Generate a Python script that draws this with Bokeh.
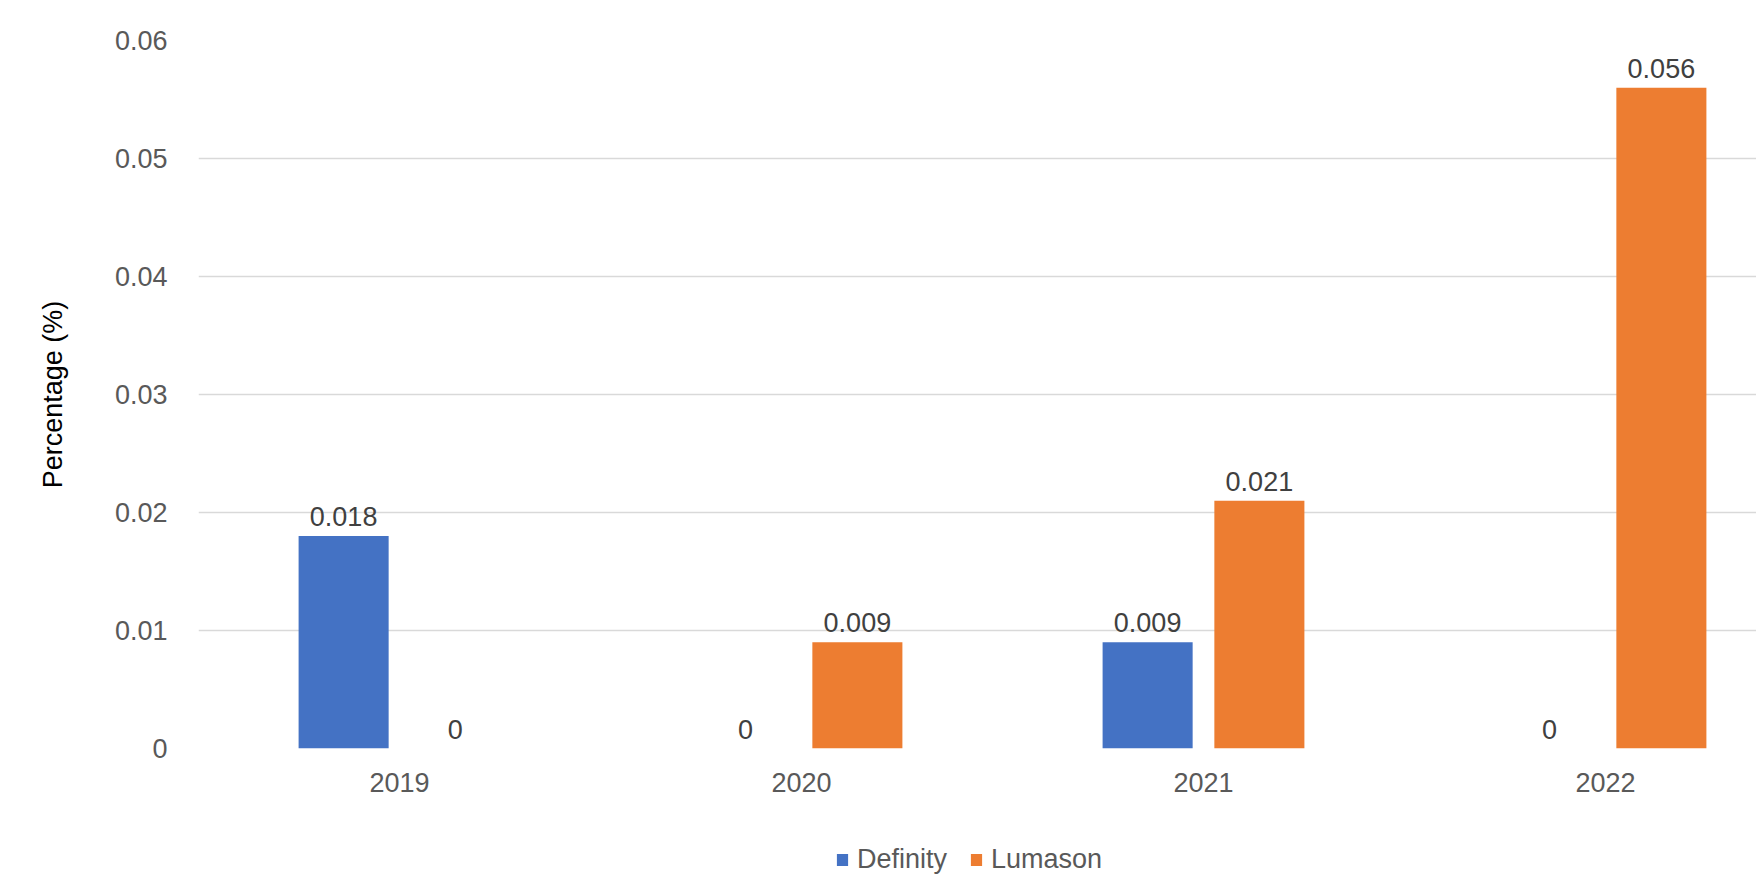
from bokeh.plotting import figure
from bokeh.layouts import column
from bokeh.models import ColumnDataSource, Range1d, LabelSet, Legend, LegendItem, FixedTicker
from bokeh.transform import dodge
from bokeh.core.properties import value
from bokeh.embed import file_html
from bokeh.resources import INLINE

years = ["2019", "2020", "2021", "2022"]
definity = [0.018, 0.0, 0.009, 0.0]
lumason = [0.0, 0.009, 0.021, 0.056]
y_ticks = [0, 0.01, 0.02, 0.03, 0.04, 0.05, 0.06]
y_tick_labels = ["0", "0.01", "0.02", "0.03", "0.04", "0.05", "0.06"]
series_names = ["Definity", "Lumason"]

BLUE = "#4472C4"
ORANGE = "#ED7D31"
FONT = "Liberation Sans"

xpos = [i + 0.5 for i in range(len(years))]
src = ColumnDataSource(dict(
    x=xpos,
    definity=definity,
    lumason=lumason,
    dlab=[f"{v:g}" for v in definity],
    llab=[f"{v:g}" for v in lumason],
))

W = 1756
H_MAIN, H_LEG = 830, 45
LEFT, TOP, BOTTOM = 198, 40, 82
frame_w = W - LEFT
cat_px = 402.0

p = figure(width=W, height=H_MAIN, output_backend="svg", toolbar_location=None,
           x_range=Range1d(0, frame_w / cat_px), y_range=Range1d(0, 0.06),
           min_border_left=LEFT, min_border_top=TOP, min_border_bottom=BOTTOM,
           min_border_right=0)
p.outline_line_color = None
p.background_fill_color = "white"

off = 0.139
bw = 0.224
p.vbar(x=dodge("x", -off, range=p.x_range), top="definity", width=bw, source=src,
       fill_color=BLUE, line_color=None)
p.vbar(x=dodge("x", off, range=p.x_range), top="lumason", width=bw, source=src,
       fill_color=ORANGE, line_color=None)

for col, lab, o in (("definity", "dlab", -off), ("lumason", "llab", off)):
    ls = LabelSet(x=dodge("x", o, range=p.x_range), y=col, text=lab, source=src,
                  text_align="center", text_baseline="bottom", y_offset=10,
                  text_font=value(FONT), text_font_size=value("27px"),
                  text_color="#404040")
    p.add_layout(ls)

# axes
p.xaxis.ticker = FixedTicker(ticks=xpos)
p.xaxis.major_label_overrides = {x: y for x, y in zip(xpos, years)}
p.yaxis.ticker = FixedTicker(ticks=y_ticks)
p.yaxis.major_label_overrides = {t: l for t, l in zip(y_ticks, y_tick_labels)}
for ax in (p.xaxis, p.yaxis):
    ax.axis_line_color = None
    ax.major_tick_line_color = None
    ax.minor_tick_line_color = None
    ax.major_label_text_font = FONT
    ax.major_label_text_font_size = "27px"
    ax.major_label_text_color = "#595959"
p.xaxis.major_label_standoff = 18
p.yaxis.major_label_standoff = 25
p.yaxis.axis_label = "Percentage (%)"
p.yaxis.axis_label_text_font = FONT
p.yaxis.axis_label_text_font_size = "27px"
p.yaxis.axis_label_text_font_style = "normal"
p.yaxis.axis_label_text_color = "#000000"
p.yaxis.axis_label_standoff = 44

p.xgrid.grid_line_color = None
p.ygrid.ticker = FixedTicker(ticks=y_ticks)
p.ygrid.grid_line_color = "#D9D9D9"
p.ygrid.grid_line_width = 1.5

# legend strip below the chart (legend-key renderers have zero height, so draw nothing)
lg = figure(width=W, height=H_LEG, output_backend="svg", toolbar_location=None,
            x_range=Range1d(0, 1), y_range=Range1d(0, 1),
            x_axis_location=None, y_axis_location=None,
            min_border_left=LEFT, min_border_right=0, min_border_top=0, min_border_bottom=0)
lg.outline_line_color = None
lg.grid.visible = False
key_src = ColumnDataSource(dict(x=[0.5], top=[0.0]))
d1 = lg.vbar(x="x", top="top", bottom=0.0, width=0.1, source=key_src,
             fill_color=BLUE, line_color=None)
d2 = lg.vbar(x="x", top="top", bottom=0.0, width=0.1, source=key_src,
             fill_color=ORANGE, line_color=None)

legend = Legend(items=[LegendItem(label=series_names[0], renderers=[d1]),
                       LegendItem(label=series_names[1], renderers=[d2])],
                location=(637, 0), orientation="horizontal",
                label_text_font=FONT, label_text_font_size="27px",
                label_text_color="#595959", glyph_width=14, glyph_height=15,
                label_standoff=8, spacing=22, padding=0, margin=0,
                border_line_color=None, background_fill_alpha=0)
lg.add_layout(legend, "center")

layout = column(p, lg, spacing=0)
open("out.html", "w").write(file_html(layout, INLINE))
